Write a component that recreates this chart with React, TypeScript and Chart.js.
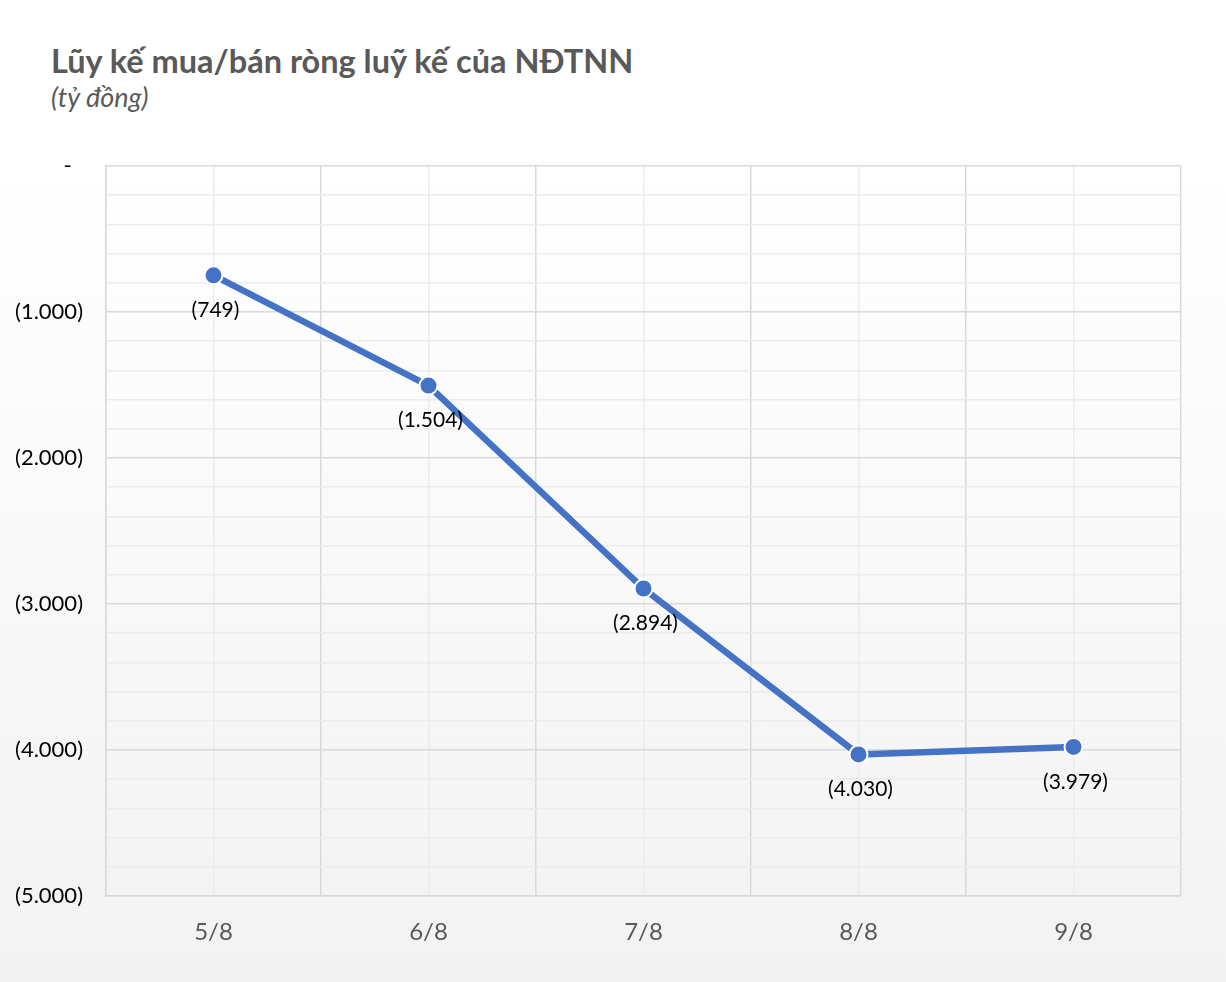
import React, { useEffect, useRef } from "react";
import { Chart, registerables } from "chart.js";

Chart.register(...registerables);

const TITLE = "Lũy kế mua/bán ròng luỹ kế của NĐTNN";
const SUBTITLE = "(tỷ đồng)";
const categories = ["5/8", "6/8", "7/8", "8/8", "9/8"];
const values = [-749, -1504, -2894, -4030, -3979];
const yMin = -5000;
const yMax = 0;
const yMinorStep = 200;
const yMajorStep = 1000;

const fmt = (v: number): string => {
  if (v === 0) return "-";
  const s = Math.abs(Math.round(v)).toString().replace(/\B(?=(\d{3})+(?!\d))/g, ".");
  return v < 0 ? "(" + s + ")" : s;
};

const FONT = "Lato, 'Open Sans', sans-serif";

const dataLabelPlugin = {
  id: "dataLabels",
  afterDatasetsDraw(chart: any) {
    const ctx = chart.ctx;
    const meta = chart.getDatasetMeta(0);
    ctx.save();
    ctx.font = `21px ${FONT}`;
    ctx.fillStyle = "#000000";
    ctx.textAlign = "center";
    ctx.textBaseline = "middle";
    meta.data.forEach((pt: any, i: number) => {
      ctx.fillText(fmt(values[i]), pt.x + 2, pt.y + 35);
    });
    ctx.restore();
  },
};

export default function App() {
  const ref = useRef<HTMLCanvasElement>(null);
  useEffect(() => {
    if (!ref.current) return;
    const chart = new Chart(ref.current, {
      type: "line",
      data: {
        labels: categories,
        datasets: [
          {
            data: values,
            borderColor: "#4472C4",
            backgroundColor: "#4472C4",
            borderWidth: 6.5,
            pointRadius: 9,
            pointBorderWidth: 2,
            pointBorderColor: "#ffffff",
            pointBackgroundColor: "#4472C4",
            tension: 0,
            xAxisID: "x",
            yAxisID: "y",
          },
        ],
      },
      options: {
        animation: false,
        responsive: false,
        maintainAspectRatio: false,
        layout: { padding: { left: 0, right: 45, top: 46, bottom: 0 } },
        plugins: { legend: { display: false }, tooltip: { enabled: false } },
        scales: {
          x: {
            type: "category",
            position: "bottom",
            offset: true,
            grid: { offset: true, color: "#d9d9d9", lineWidth: 1.5, drawTicks: false },
            border: { display: true, color: "#d9d9d9", width: 1.5 },
            ticks: { color: "#595959", font: { family: FONT, size: 24 }, padding: 22 },
            afterFit(scale: any) {
              scale.height = 86;
            },
          },
          x2: {
            type: "category",
            position: "bottom",
            offset: true,
            labels: categories,
            grid: { offset: false, color: "#ececec", lineWidth: 1.5, drawTicks: false },
            border: { display: false },
            ticks: { display: false },
            afterFit(scale: any) {
              scale.height = 0;
            },
          },
          y: {
            min: yMin,
            max: yMax,
            grid: {
              drawTicks: false,
              color: (c: any) => (c.tick && c.tick.value % yMajorStep === 0 ? "#d9d9d9" : "#ececec"),
              lineWidth: 1.5,
            },
            border: { display: true, color: "#d9d9d9", width: 1.5 },
            ticks: {
              stepSize: yMinorStep,
              color: "#000000",
              padding: 23,
              font: { family: FONT, size: 22 },
              callback: (v: any) => {
                const n = Number(v);
                if (n % yMajorStep !== 0) return "";
                return n === 0 ? fmt(n) + "  " : fmt(n);
              },
              autoSkip: false,
            },
            afterFit(scale: any) {
              scale.width = 106;
            },
          },
        },
      },
      plugins: [dataLabelPlugin],
    });
    return () => chart.destroy();
  }, []);

  return (
    <div
      style={{
        position: "fixed",
        left: 0,
        top: 0,
        width: 1226,
        height: 982,
        background: "linear-gradient(to bottom, #ffffff 0%, #ffffff 17%, #f2f2f2 100%)",
        overflow: "hidden",
      }}
    >
      <div
        style={{
          position: "absolute",
          left: 51,
          top: 41,
          fontFamily: FONT,
          fontWeight: 700,
          fontSize: 32.5,
          color: "#595959",
          whiteSpace: "nowrap",
          lineHeight: 1.2,
        }}
      >
        {TITLE}
      </div>
      <div
        style={{
          position: "absolute",
          left: 51,
          top: 81,
          fontFamily: FONT,
          fontStyle: "italic",
          fontSize: 27,
          color: "#595959",
          whiteSpace: "nowrap",
          lineHeight: 1.2,
        }}
      >
        {SUBTITLE}
      </div>
      <canvas
        ref={ref}
        width={1226}
        height={862}
        style={{ position: "absolute", left: 0, top: 120, width: 1226, height: 862 }}
      />
    </div>
  );
}
